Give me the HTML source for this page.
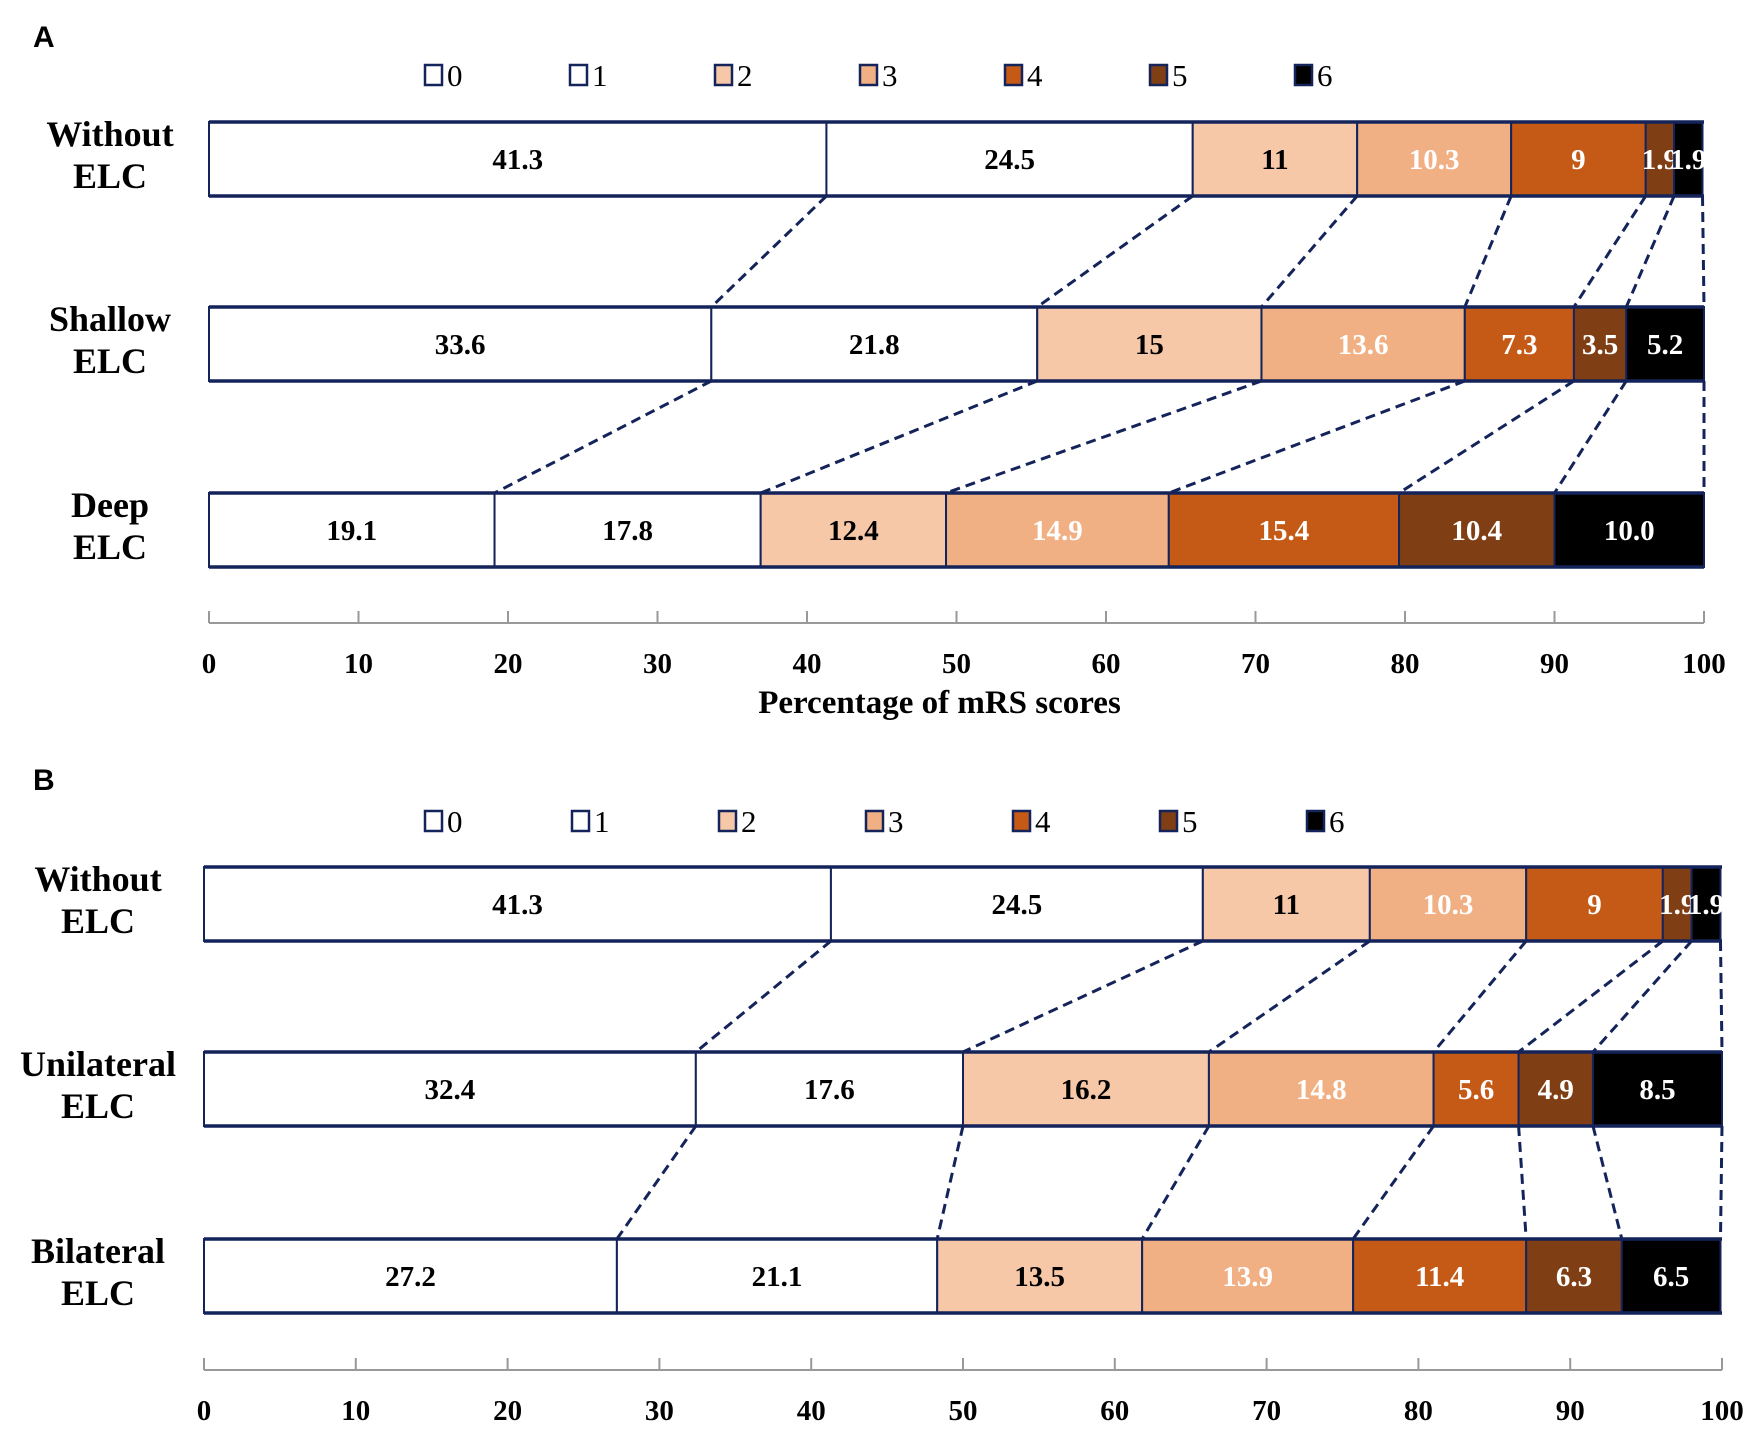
<!DOCTYPE html>
<html><head><meta charset="utf-8">
<style>
html,body{margin:0;padding:0;background:#fff;}
svg{display:block;}
text{font-family:"Liberation Serif",serif;}
</style></head>
<body>
<svg id="chart" width="1750" height="1434" viewBox="0 0 1750 1434" xmlns="http://www.w3.org/2000/svg"></svg>
<script>
const categoriesA = ["Without|ELC","Shallow|ELC","Deep|ELC"];
const valuesA = [
  [41.3,24.5,11,10.3,9,1.9,1.9],
  [33.6,21.8,15,13.6,7.3,3.5,5.2],
  [19.1,17.8,12.4,14.9,15.4,10.4,10.0]
];
const labelsA = [
  ["41.3","24.5","11","10.3","9","1.9","1.9"],
  ["33.6","21.8","15","13.6","7.3","3.5","5.2"],
  ["19.1","17.8","12.4","14.9","15.4","10.4","10.0"]
];
const categoriesB = ["Without|ELC","Unilateral|ELC","Bilateral|ELC"];
const valuesB = [
  [41.3,24.5,11,10.3,9,1.9,1.9],
  [32.4,17.6,16.2,14.8,5.6,4.9,8.5],
  [27.2,21.1,13.5,13.9,11.4,6.3,6.5]
];
const labelsB = [
  ["41.3","24.5","11","10.3","9","1.9","1.9"],
  ["32.4","17.6","16.2","14.8","5.6","4.9","8.5"],
  ["27.2","21.1","13.5","13.9","11.4","6.3","6.5"]
];
const scoreNames = ["0","1","2","3","4","5","6"];
const ticks = [0,10,20,30,40,50,60,70,80,90,100];

const colors = ["#ffffff","#ffffff","#f6c8a8","#f0b083","#c45a15","#7f3e13","#000000"];
const textColors = ["#000","#000","#000","#fff","#fff","#fff","#fff"];
const NAVY = "#14245a";
const svg = document.getElementById('chart');
const NS = "http://www.w3.org/2000/svg";
function mk(tag, attrs, parent){
  const e = document.createElementNS(NS, tag);
  for (const k in attrs) e.setAttribute(k, attrs[k]);
  (parent||svg).appendChild(e);
  return e;
}

function panel(cfg){
  const g = mk('g', {});
  
  
  const xs = v => cfg.x0 + (cfg.x1 - cfg.x0) * v / 100;

  const pl = mk('text', {x:cfg.letterX, y:cfg.letterY, 'font-size':30, 'font-weight':'bold', fill:'#000', style:'font-family:"Liberation Sans",sans-serif'}, g);
  pl.textContent = cfg.id;
  
  

  scoreNames.forEach((s, i) => {
    const lg = mk('g', {}, g);
    
    
    const lx = cfg.legX + i * cfg.legStep;
    mk('rect', {x:lx, y:cfg.legY-10, width:17, height:20, fill:colors[i], stroke:NAVY, 'stroke-width':2.5}, lg);
    const t = mk('text', {x:lx+22, y:cfg.legY+11, 'font-size':31, fill:'#000'}, lg);
    t.textContent = s;
  });

  for (let r = 0; r < cfg.values.length - 1; r++) {
    let c1 = 0, c2 = 0;
    for (let k = 0; k < scoreNames.length; k++) {
      c1 += cfg.values[r][k]; c2 += cfg.values[r+1][k];
      const l = mk('line', {x1:xs(Math.min(c1,100)), y1:cfg.rows[r]+cfg.barH, x2:xs(Math.min(c2,100)), y2:cfg.rows[r+1], stroke:NAVY, 'stroke-width':3, 'stroke-dasharray':'10,6'}, g);
      
      
    }
  }

  cfg.values.forEach((row, r) => {
    const y = cfg.rows[r];
    const parts = cfg.cats[r].split('|');
    const cl = mk('text', {x:cfg.catX, y:y+24, 'font-size':36, 'font-weight':'bold', 'text-anchor':'middle', fill:'#000'}, g);
    
    
    const t1 = mk('tspan', {x:cfg.catX, dy:0}, cl); t1.textContent = parts[0];
    const t2 = mk('tspan', {x:cfg.catX, dy:42}, cl); t2.textContent = parts[1];
    let cum = 0;
    row.forEach((v, k) => {
      const xa = xs(cum), xb = xs(Math.min(cum + v, 100));
      cum += v;
      const rc = mk('rect', {x:xa, y:y, width:Math.max(xb-xa,0), height:cfg.barH, fill:colors[k], stroke:NAVY, 'stroke-width':2}, g);
      
      
      const tx = mk('text', {x:(xa+xb)/2, y:y+cfg.barH/2+10, 'font-size':29, 'font-weight':'bold', 'text-anchor':'middle', fill:textColors[k]}, g);
      tx.textContent = cfg.labels[r][k];
      
      
    });
    mk('line', {x1:xs(0), y1:y, x2:xs(100), y2:y, stroke:NAVY, 'stroke-width':3.5}, g);
    mk('line', {x1:xs(0), y1:y+cfg.barH, x2:xs(100), y2:y+cfg.barH, stroke:NAVY, 'stroke-width':3.5}, g);
  });

  const ax = mk('g', {}, g);
  
  
  mk('line', {x1:xs(0), y1:cfg.axisY, x2:xs(100), y2:cfg.axisY, stroke:'#999', 'stroke-width':2}, ax);
  ticks.forEach(t => {
    mk('line', {x1:xs(t), y1:cfg.axisY-12, x2:xs(t), y2:cfg.axisY, stroke:'#999', 'stroke-width':2}, ax);
    const tl = mk('text', {x:xs(t), y:cfg.axisY+50, 'font-size':29, 'font-weight':'bold', 'text-anchor':'middle', fill:'#000'}, ax);
    tl.textContent = t;
  });
  if (cfg.title) {
    const at = mk('text', {x:(cfg.x0+cfg.x1)/2 - 17, y:cfg.axisY+90, 'font-size':33, 'font-weight':'bold', 'text-anchor':'middle', fill:'#000'}, g);
    at.textContent = cfg.title;
    
    
  }
}

panel({id:'A', values:valuesA, labels:labelsA, cats:categoriesA, x0:209, x1:1704, rows:[122,307,493], barH:74,
  axisY:623, title:'Percentage of mRS scores', letterX:33, letterY:47, legX:425, legStep:145, legY:75, catX:110});
panel({id:'B', values:valuesB, labels:labelsB, cats:categoriesB, x0:204, x1:1722, rows:[867,1052,1239], barH:74,
  axisY:1370, title:null, letterX:33, letterY:790, legX:425, legStep:147, legY:821, catX:98});
</script>
</body></html>
